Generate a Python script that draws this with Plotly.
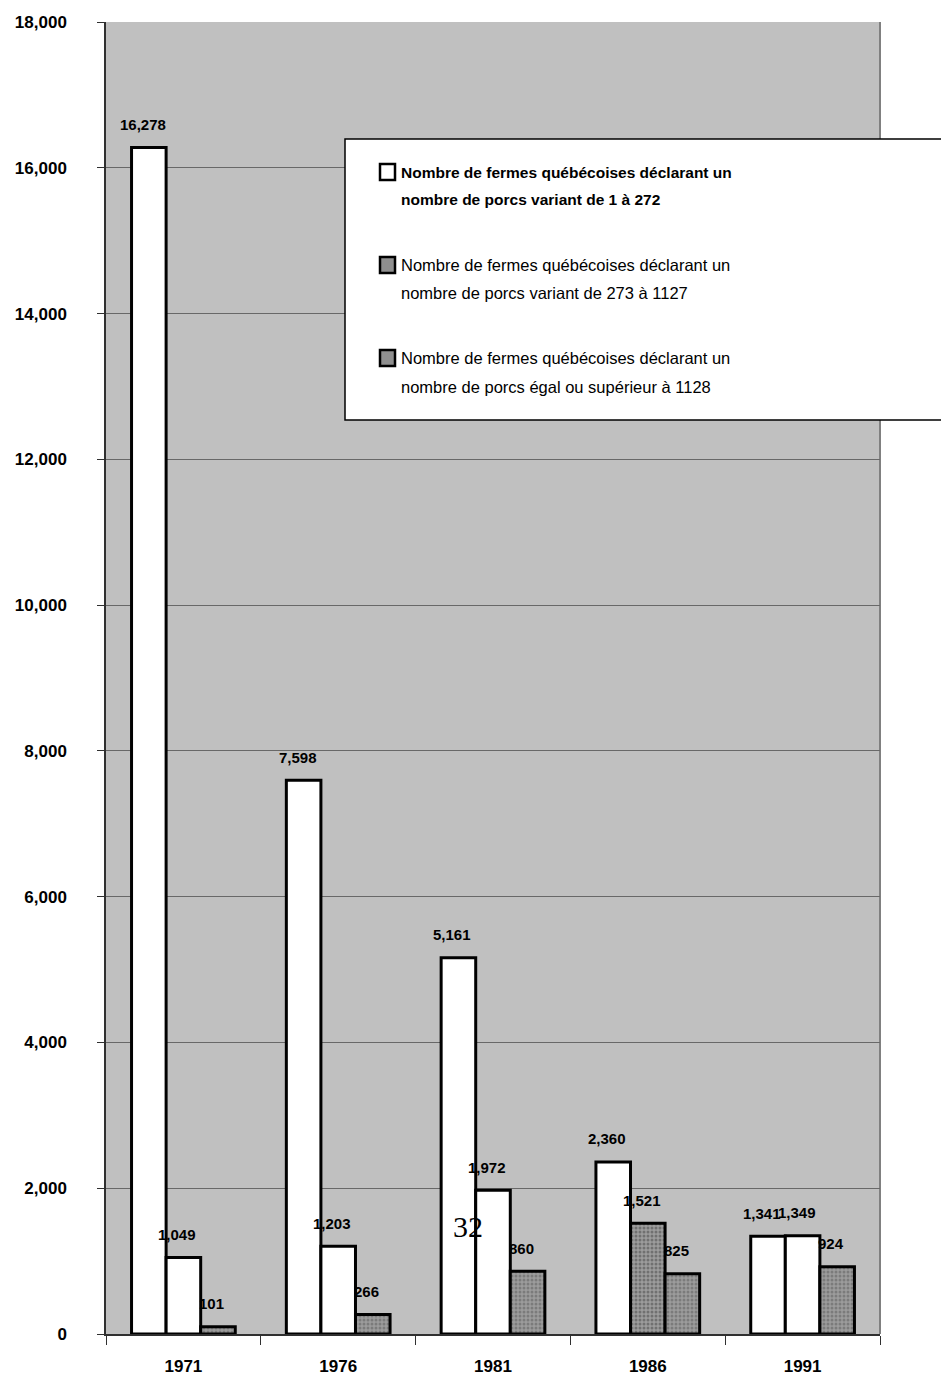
import plotly.graph_objects as go

years = ["1971", "1976", "1981", "1986", "1991"]
s1 = [16278, 7598, 5161, 2360, 1341]
s2 = [1049, 1203, 1972, 1521, 1349]
s3 = [101, 266, 860, 825, 924]
s2_patterned = [False, False, False, True, False]
yticks = [0, 2000, 4000, 6000, 8000, 10000, 12000, 14000, 16000, 18000]
legend_lines = [
    ("Nombre de fermes québécoises déclarant un", "nombre de porcs variant de 1 à 272"),
    ("Nombre de fermes québécoises déclarant un", "nombre de porcs variant de 273 à 1127"),
    ("Nombre de fermes québécoises déclarant un", "nombre de porcs égal ou supérieur à 1128"),
]

W, H = 941, 1382
L, R, T, B = 106, 880, 22, 1334
FONT = "Liberation Sans Narrow, Arial Narrow, Liberation Sans, Arial"

def px(xp):
    return (xp - L) / (R - L)

def py(yp):
    return (B - yp) / (B - T)

xs = list(range(len(years)))
PAT_BG = "#9c9c9c"
PAT_FG = "#5a5a5a"

fig = go.Figure()
fig.add_trace(go.Bar(
    x=xs, y=s1, marker=dict(color="white", line=dict(color="black", width=3)),
    showlegend=False, hoverinfo="skip"))
fig.add_trace(go.Bar(
    x=xs, y=s2,
    marker=dict(color=[PAT_BG if p else "white" for p in s2_patterned],
                pattern=dict(shape=["." if p else "" for p in s2_patterned],
                             fgcolor=PAT_FG, size=4, solidity=0.45),
                line=dict(color="black", width=3)),
    showlegend=False, hoverinfo="skip"))
fig.add_trace(go.Bar(
    x=xs, y=s3,
    marker=dict(color=PAT_BG, pattern=dict(shape=".", fgcolor=PAT_FG, size=4, solidity=0.45),
                line=dict(color="black", width=3)),
    showlegend=False, hoverinfo="skip"))

bargap = 0.33
bw = (1 - bargap) / 3
annotations = []
for k, series in enumerate([s1, s2, s3]):
    for i, v in enumerate(series):
        annotations.append(dict(
            x=xs[i] + (k - 1) * bw, y=v, xref="x", yref="y",
            text=f"{v:,}", showarrow=False, yshift=23, xshift=-6,
            font=dict(family=FONT, size=15, color="black", weight="bold")))

# page number overlay
annotations.append(dict(x=px(468), y=py(1245), xref="paper", yref="paper",
                        text="32", showarrow=False,
                        font=dict(family="Liberation Serif, Times New Roman, serif", size=30, color="black")))

# manual legend
shapes = [
    dict(type="rect", xref="paper", yref="paper", x0=px(345), x1=px(960), y0=py(420), y1=py(139),
         fillcolor="white", line=dict(color="black", width=1.5), layer="above"),
    dict(type="line", xref="paper", yref="paper", x0=1, x1=1, y0=0, y1=1,
         line=dict(color="#808080", width=2), layer="below"),
]
legend_y = [(172, 200), (265, 293), (358, 387)]
sw_fill = ["white", "#8f8f8f", "#8f8f8f"]
for j, ((l1, l2), (y1, y2)) in enumerate(zip(legend_lines, legend_y)):
    shapes.append(dict(type="rect", xref="paper", yref="paper",
                       x0=px(380), x1=px(395), y0=py(y1 + 8), y1=py(y1 - 8),
                       fillcolor=sw_fill[j], line=dict(color="black", width=2.5), layer="above"))
    wt = "bold" if j == 0 else "normal"
    sz = 15.5 if j == 0 else 16.5
    for txt, yy in ((l1, y1), (l2, y2)):
        annotations.append(dict(x=px(399), y=py(yy), xref="paper", yref="paper",
                                xanchor="left", yanchor="middle", text=txt, showarrow=False,
                                font=dict(family=FONT, size=sz, color="black", weight=wt)))

fig.update_layout(
    width=W, height=H,
    margin=dict(l=L, r=W - R, t=T, b=H - B, autoexpand=False),
    paper_bgcolor="white", plot_bgcolor="#c0c0c0",
    barmode="group", bargap=bargap, bargroupgap=0,
    showlegend=False,
    annotations=annotations, shapes=shapes,
    xaxis=dict(range=[-0.5, len(years) - 0.5], tickvals=xs, ticktext=years,
               ticks="", showgrid=False, zeroline=False, automargin=False,
               showline=True, linecolor="#303030", linewidth=1.5,
               minor=dict(ticks="outside", tick0=-0.5, dtick=1, ticklen=9,
                          tickcolor="#303030", tickwidth=1, showgrid=False),
               ticklabelstandoff=16,
               tickfont=dict(family=FONT, size=17, color="black", weight="bold")),
    yaxis=dict(range=[0, 18000], tickvals=yticks, tickformat=",d",
               ticks="outside", ticklen=7, tickcolor="#303030", automargin=False,
               showgrid=True, gridcolor="#686868", gridwidth=1, zeroline=False,
               showline=True, linecolor="#303030", linewidth=1.5,
               ticklabelstandoff=27,
               tickfont=dict(family=FONT, size=17, color="black", weight="bold")),
)

fig.write_html("out.html")
